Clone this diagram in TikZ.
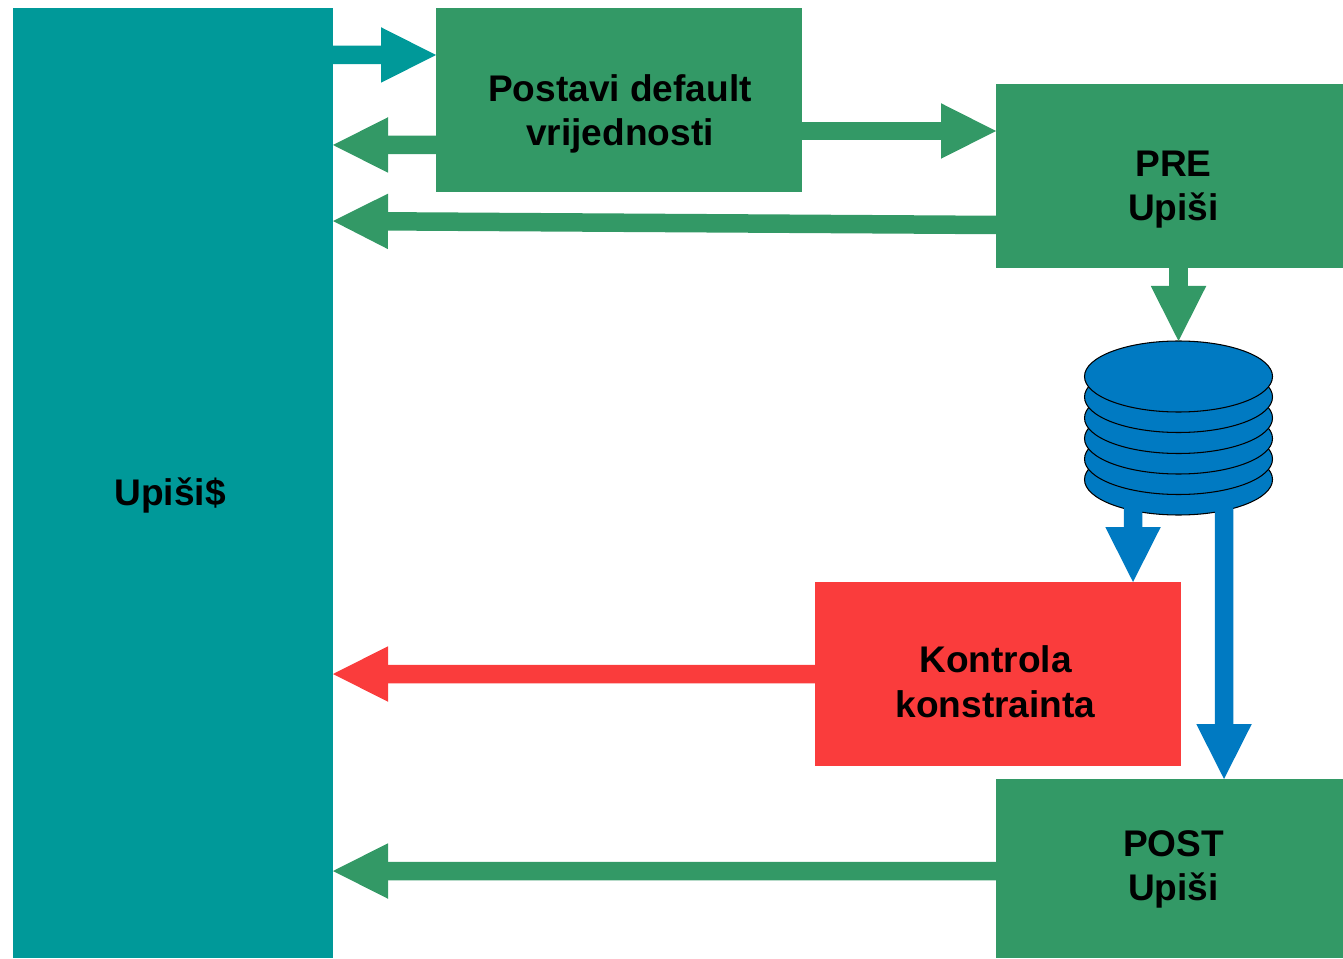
\documentclass[tikz,border=0pt]{standalone}
\usepackage{fontspec}
\setmainfont{Liberation Sans}
\usetikzlibrary{arrows.meta, shapes.geometric}
\definecolor{tealbox}{RGB}{0,153,153}
\definecolor{greenbox}{RGB}{51,153,102}
\definecolor{redbox}{RGB}{250,60,60}
\definecolor{bluedisk}{RGB}{0,122,194}
\tikzset{
    box/.style={shape=rectangle, inner sep=0pt, outer sep=0pt},
    boxtext/.style={align=center, inner sep=0pt, font=\fontsize{10.55pt}{12.66pt}\selectfont\bfseries},
    disk/.style={shape=ellipse, draw=black, line width=0.3pt, fill=bluedisk, inner sep=0pt, outer sep=0pt, minimum width=1.88cm, minimum height=0.71cm},
    flow/.style={line width=0.185cm, -{Triangle[length=0.55cm, width=0.555cm, line width=0pt]}}
}

\begin{document}
\begin{tikzpicture}
    \useasboundingbox (0,0) rectangle (13.43,9.58);
    \node[box, fill=tealbox,  minimum width=3.20cm, minimum height=9.50cm] (upisi)    at ( 1.73,  4.75) {};
    \node[box, fill=greenbox, minimum width=3.66cm, minimum height=1.84cm] (postavi)  at ( 6.19,  8.58) {};
    \node[box, fill=greenbox, minimum width=3.47cm, minimum height=1.84cm] (pre)      at (11.695, 7.82) {};
    \node[box, fill=redbox,   minimum width=3.66cm, minimum height=1.84cm] (kontrola) at ( 9.98,  2.84) {};
    \node[box, fill=greenbox, minimum width=3.47cm, minimum height=1.79cm] (post)     at (11.695, 0.895) {};

    \node[boxtext] (upisitext)    at ( 1.70,  4.62) {Upiši\$};
    \node[boxtext] (postavitext)  at ( 6.20,  8.44) {Postavi default\\vrijednosti};
    \node[boxtext] (pretext)      at (11.735, 7.685) {PRE\\Upiši};
    \node[boxtext] (kontrolatext) at ( 9.955, 2.765) {Kontrola\\konstrainta};
    \node[boxtext] (posttext)     at (11.735, 0.885) {POST\\Upiši};

    \foreach \i/\y in {5/4.785, 4/4.99, 3/5.195, 2/5.40, 1/5.61, 0/5.815}
        \node[disk] (disk\i) at (11.785, \y) {};

    \draw[flow, tealbox]  ([yshift=4.28cm]upisi.east) -- ([yshift=0.45cm]postavi.west);
    \draw[flow, greenbox] ([yshift=-0.45cm]postavi.west) -- ([yshift=3.38cm]upisi.east);
    \draw[flow, greenbox] ([yshift=-0.31cm]postavi.east) -- ([yshift=0.45cm]pre.west);
    \draw[flow, greenbox] ([yshift=-0.49cm]pre.west) -- ([yshift=2.62cm]upisi.east);
    \draw[flow, greenbox] ([xshift=0.09cm]pre.south) -- (disk0.north);
    \draw[flow, bluedisk] ([xshift=-0.455cm, yshift=0.09cm]disk5.south) -- ([xshift=1.35cm]kontrola.north);
    \draw[flow, bluedisk] ([xshift=0.455cm, yshift=0.09cm]disk5.south) -- ([xshift=0.545cm]post.north);
    \draw[flow, redbox]   (kontrola.west) -- ([yshift=-1.91cm]upisi.east);
    \draw[flow, greenbox] ([yshift=-0.025cm]post.west) -- ([yshift=-3.88cm]upisi.east);
\end{tikzpicture}
\end{document}
